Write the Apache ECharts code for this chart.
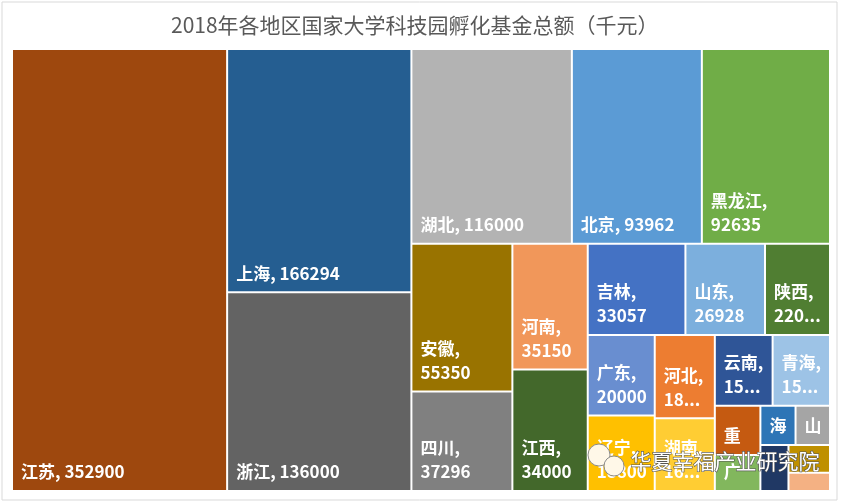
<!DOCTYPE html>
<html>
<head>
<meta charset="utf-8">
<script src="https://cdn.jsdelivr.net/npm/echarts@6/dist/echarts.min.js"></script>
<style>
  html, body { margin: 0; padding: 0; background: #fff; }
  #main { width: 843px; height: 504px; }
</style>
</head>
<body>
<div id="main"></div>
<script>
// 各地区 / 孵化基金（千元）
var names = ['江苏', '上海', '浙江', '湖北', '北京', '黑龙江', '安徽', '四川', '河南', '江西',
    '吉林', '山东', '陕西', '广东', '辽宁', '河北', '湖南', '云南', '青海', '重庆',
    '广西', '海南', '山西', '福建', '贵州', '天津'];
var values = [352900, 166294, 136000, 116000, 93962, 92635, 55350, 37296, 35150, 34000,
    33057, 26928, 22000, 20000, 18800, 18600, 16200, 15200, 15100, 8300,
    6100, 5100, 5000, 4800, 4300, 2800];
var colors = ['#9E480E', '#255E91', '#636363', '#B3B3B3', '#5B9BD5', '#70AD47', '#997300', '#808080', '#F1975A', '#43682B',
    '#4472C4', '#7CAFDD', '#507E32', '#698ED0', '#FFC000', '#ED7D31', '#FFCD33', '#2F5597', '#9DC3E6', '#C55A11',
    '#82B75D', '#2E75B6', '#A5A5A5', '#203864', '#BF9000', '#F4B183'];

// 分块顺序（索引），按 Excel 的切分方式嵌套
var r10 = [23, [24, 25]];
var r9 = [[21, 22], r10];
var r8 = [[19, 20], r9];
var r7 = [[17, 18], r8];
var r6b = [[15, 16], r7];
var r6 = [[13, 14], r6b];
var r5 = [[10, 11, 12], r6];
var r4 = [[8, 9], r5];
var r3 = [[6, 7], r4];
var r2 = [[3, 4, 5], r3];
var r1 = [[1, 2], r2];
var layoutTree = [0, r1];

// 标签在一行放得下的最小值（宽块），其余换行
var oneLineMin = 93000;

var build = function (node) {
    if (typeof node === 'number') {
        return {
            name: names[node],
            value: values[node],
            itemStyle: { color: colors[node], borderWidth: 1, borderColor: '#fff' }
        };
    }
    return {
        name: '',
        children: node.map(build),
        itemStyle: { borderWidth: 0, gapWidth: 0, borderColor: '#fff' }
    };
};

var myChart = echarts.init(document.getElementById('main'));
myChart.setOption({
    backgroundColor: '#fff',
    animation: false,
    title: {
        text: '2018年各地区国家大学科技园孵化基金总额（千元）',
        left: 166,
        top: 10,
        textStyle: {
            fontFamily: 'Noto Sans CJK SC',
            fontSize: 21,
            fontWeight: 'normal',
            color: '#595959'
        }
    },
    graphic: [
        {
            type: 'rect',
            shape: { x: 2, y: 2, width: 835, height: 498 },
            style: { fill: 'none', stroke: '#D9D9D9', lineWidth: 1 },
            z: 0
        },
        {
            type: 'circle',
            shape: { cx: 599, cy: 455, r: 11 },
            style: { fill: '#FFF8E8', stroke: '#8C8C8C', lineWidth: 1 },
            z: 100
        },
        {
            type: 'circle',
            shape: { cx: 614, cy: 466, r: 10 },
            style: { fill: '#FFF8E8', stroke: '#8C8C8C', lineWidth: 1 },
            z: 100
        },
        {
            type: 'text',
            left: 630,
            top: 450,
            style: {
                text: '华夏幸福产业研究院',
                font: '21px "Noto Sans CJK SC"',
                fill: '#fff',
                stroke: '#555',
                lineWidth: 1.2
            },
            z: 100
        }
    ],
    series: [{
        type: 'treemap',
        left: 12,
        top: 49,
        width: 818,
        height: 442,
        sort: false,
        squareRatio: 0.8,
        roam: false,
        nodeClick: false,
        breadcrumb: { show: false },
        itemStyle: { borderWidth: 0, gapWidth: 0, borderColor: '#fff' },
        label: {
            show: true,
            position: 'insideBottomLeft',
            formatter: function (p) {
                return p.value >= oneLineMin ? p.name + ', ' + p.value : p.name + ',\n' + p.value;
            },
            color: '#fff',
            fontFamily: 'Noto Sans CJK SC',
            fontSize: 17,
            fontWeight: 'bold',
            lineHeight: 24,
            padding: [2, 5, 6, 8],
            overflow: 'truncate',
            ellipsis: '...'
        },
        upperLabel: { show: false },
        data: build(layoutTree).children
    }]
});
</script>
</body>
</html>
